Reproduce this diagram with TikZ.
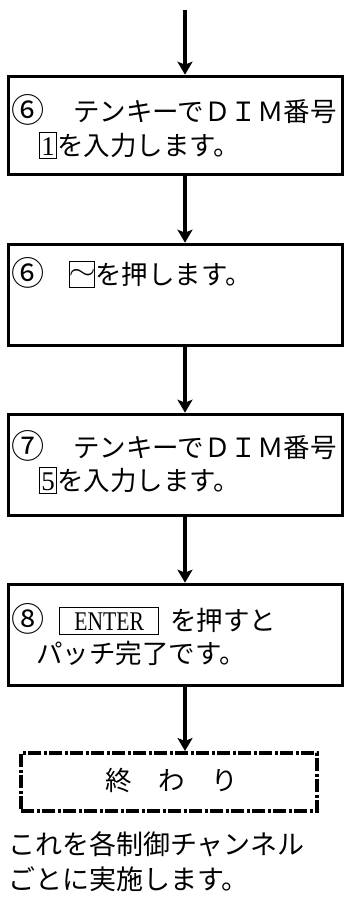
\documentclass[tikz,border=0pt]{standalone}
\usepackage{fontspec}
\usepackage{graphicx}
\setmainfont{Noto Sans CJK JP}
\newfontfamily\latserif{Liberation Serif}
\usetikzlibrary{arrows.meta}
\newcommand{\keybox}[2][16pt]{{\setlength{\fboxsep}{0pt}\setlength{\fboxrule}{1pt}\fbox{\makebox[#1]{\rule[-3pt]{0pt}{25pt}\latserif\fontsize{27}{30}\selectfont #2}}}}
\newcommand{\circnum}[1]{\makebox[26pt][l]{\raisebox{-1pt}{\scalebox{1.25}{#1}}}}
\begin{document}
\begin{tikzpicture}[x=1pt,y=1pt,
  stepbox/.style={draw,line width=3.6pt,minimum width=334pt,inner sep=0pt},
  endbox/.style={draw,line width=4pt,dash pattern=on 13pt off 2.5pt on 3pt off 2.5pt,minimum width=296pt,minimum height=58pt,inner sep=0pt},
  arr/.style={line width=3.4pt,-{Stealth[length=13pt,width=15pt,inset=3pt]}},
  txt/.style={anchor=base west,inner sep=0pt,font=\fontsize{26.5}{30}\selectfont}]
\useasboundingbox (0,0) rectangle (344,-902);
\coordinate (ax) at (185,0);
\coordinate (start) at (185,-10);
% boxes
\node[stepbox,minimum height=98pt] (b1) at (175.5,-125.5) {};
\node[stepbox,minimum height=101pt] (b2) at (175.5,-295) {};
\node[stepbox,minimum height=101pt] (b3) at (175.5,-465) {};
\node[stepbox,minimum height=101pt] (b4) at (175.5,-635) {};
\node[endbox] (e) at (169,-782) {};
% texts
\node[txt] (t1a) at (11,-121) {\circnum{⑥}\hspace{36pt}テンキーでＤＩＭ番号};
\node[txt] (t1b) at (39,-155) {\keybox{1}を入力します。};
\node[txt] (t2a) at (11,-284) {\circnum{⑥}\hspace{32pt}\keybox[24pt]{\raisebox{5pt}{\scalebox{1.4}[1.1]{$\sim$}}}を押します。};
\node[txt] (t3a) at (11,-457) {\circnum{⑦}\hspace{36pt}テンキーでＤＩＭ番号};
\node[txt] (t3b) at (39,-490) {\keybox{5}を入力します。};
\node[txt] (t4a) at (11,-630) {\circnum{⑧}\hspace{22pt}{\setlength{\fboxsep}{0pt}\setlength{\fboxrule}{1pt}\fbox{\makebox[98pt]{\rule[-4pt]{0pt}{26pt}\scalebox{0.8}[1]{\latserif\fontsize{27}{28}\selectfont ENTER}}}}\hspace{11pt}を押すと};
\node[txt] (t4b) at (36,-663) {パッチ完了です。};
\node[txt,anchor=base] (te) at (172,-790) {終　わ　り};
\node[txt,font=\fontsize{27}{30}\selectfont] (n1) at (8,-854) {これを各制御チャンネル};
\node[txt,font=\fontsize{27}{30}\selectfont] (n2) at (8,-889) {ごとに実施します。};
% connectors
\draw[arr] (start) -- (b1.north -| ax);
\draw[arr] (b1.south -| ax) -- (b2.north -| ax);
\draw[arr] (b2.south -| ax) -- (b3.north -| ax);
\draw[arr] (b3.south -| ax) -- (b4.north -| ax);
\draw[arr] (b4.south -| ax) -- (e.north -| ax);
\end{tikzpicture}
\end{document}
